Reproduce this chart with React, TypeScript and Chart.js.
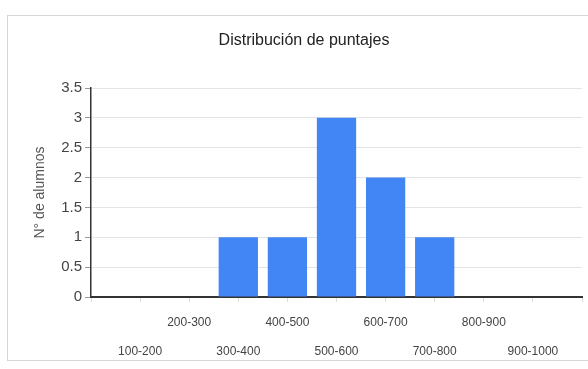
import React, { useEffect, useRef } from "react";
import { Chart, registerables } from "chart.js";

Chart.register(...registerables);

const categories = ["100-200", "200-300", "300-400", "400-500", "500-600", "600-700", "700-800", "800-900", "900-1000"];
const counts = [0, 0, 1, 1, 3, 2, 1, 0, 0];
const chartTitle = "Distribución de puntajes";
const yTitle = "N° de alumnos";
const yMin = 0;
const yMax = 3.5;
const yStep = 0.5;

const FONT = "'Liberation Sans Narrow', 'Arial Narrow', 'Liberation Sans', Arial, sans-serif";

export default function App() {
  const ref = useRef<HTMLCanvasElement | null>(null);

  useEffect(() => {
    const canvas = ref.current;
    if (!canvas) return;
    const chart = new Chart(canvas, {
      type: "bar",
      data: {
        datasets: [
          {
            data: categories.map((_, i) => ({ x: i, y: counts[i] })),
            backgroundColor: "#4285f4",
            borderWidth: 0,
            barPercentage: 0.8,
            categoryPercentage: 1,
          },
        ],
      },
      options: {
        responsive: false,
        animation: false,
        devicePixelRatio: 1,
        layout: { padding: { left: 26, right: 6, top: 0, bottom: 0 } },
        plugins: {
          legend: { display: false },
          tooltip: { enabled: false },
          title: {
            display: true,
            text: chartTitle,
            color: "#222",
            font: { family: FONT, size: 16, weight: "normal", lineHeight: 1.2 },
            padding: { top: 31, bottom: 37.8 },
          },
        },
        scales: {
          x: {
            type: "linear",
            min: -1,
            max: categories.length,
            offset: false,
            grid: {
              offset: false,
              display: true,
              drawOnChartArea: false,
              tickLength: 5,
              tickColor: "#dddddd",
            },
            border: { display: true, color: "#333333", width: 2 },
            ticks: {
              stepSize: 1,
              autoSkip: false,
              maxRotation: 0,
              minRotation: 0,
              padding: 6,
              color: "#444",
              font: { family: FONT, size: 12, lineHeight: 2.42 },
              callback: (v: any) => {
                const i = Math.round(Number(v));
                if (i < 0 || i >= categories.length) return "";
                return i % 2 === 0 ? ["", categories[i]] : [categories[i], ""];
              },
            },
            afterFit: (s: any) => {
              s.height = 72;
            },
          },
          y: {
            min: yMin,
            max: yMax,
            grid: {
              color: "#e4e4e4",
              lineWidth: 1,
              tickLength: 6,
              tickColor: "#999999",
            },
            border: { display: true, color: "#333333", width: 1.5 },
            ticks: {
              stepSize: yStep,
              padding: 3,
              color: "#444",
              font: { family: FONT, size: 15 },
              callback: (v: any) => String(v),
            },
            title: {
              display: true,
              text: yTitle,
              color: "#555",
              font: { family: FONT, size: 14 },
              padding: { top: 6, bottom: 0 },
            },
            afterFit: (s: any) => {
              s.width = 65;
            },
          },
        },
      },
    });
    return () => chart.destroy();
  }, []);

  return (
    <div style={{ position: "fixed", left: 0, top: 0, width: 588, height: 369, background: "#fff", overflow: "hidden" }}>
      <div
        style={{
          position: "absolute",
          left: 7,
          top: 15,
          width: 600,
          height: 346,
          border: "1px solid #d6d6d6",
          boxSizing: "border-box",
        }}
      />
      <canvas ref={ref} width={588} height={369} style={{ position: "absolute", left: 0, top: 0 }} />
    </div>
  );
}
